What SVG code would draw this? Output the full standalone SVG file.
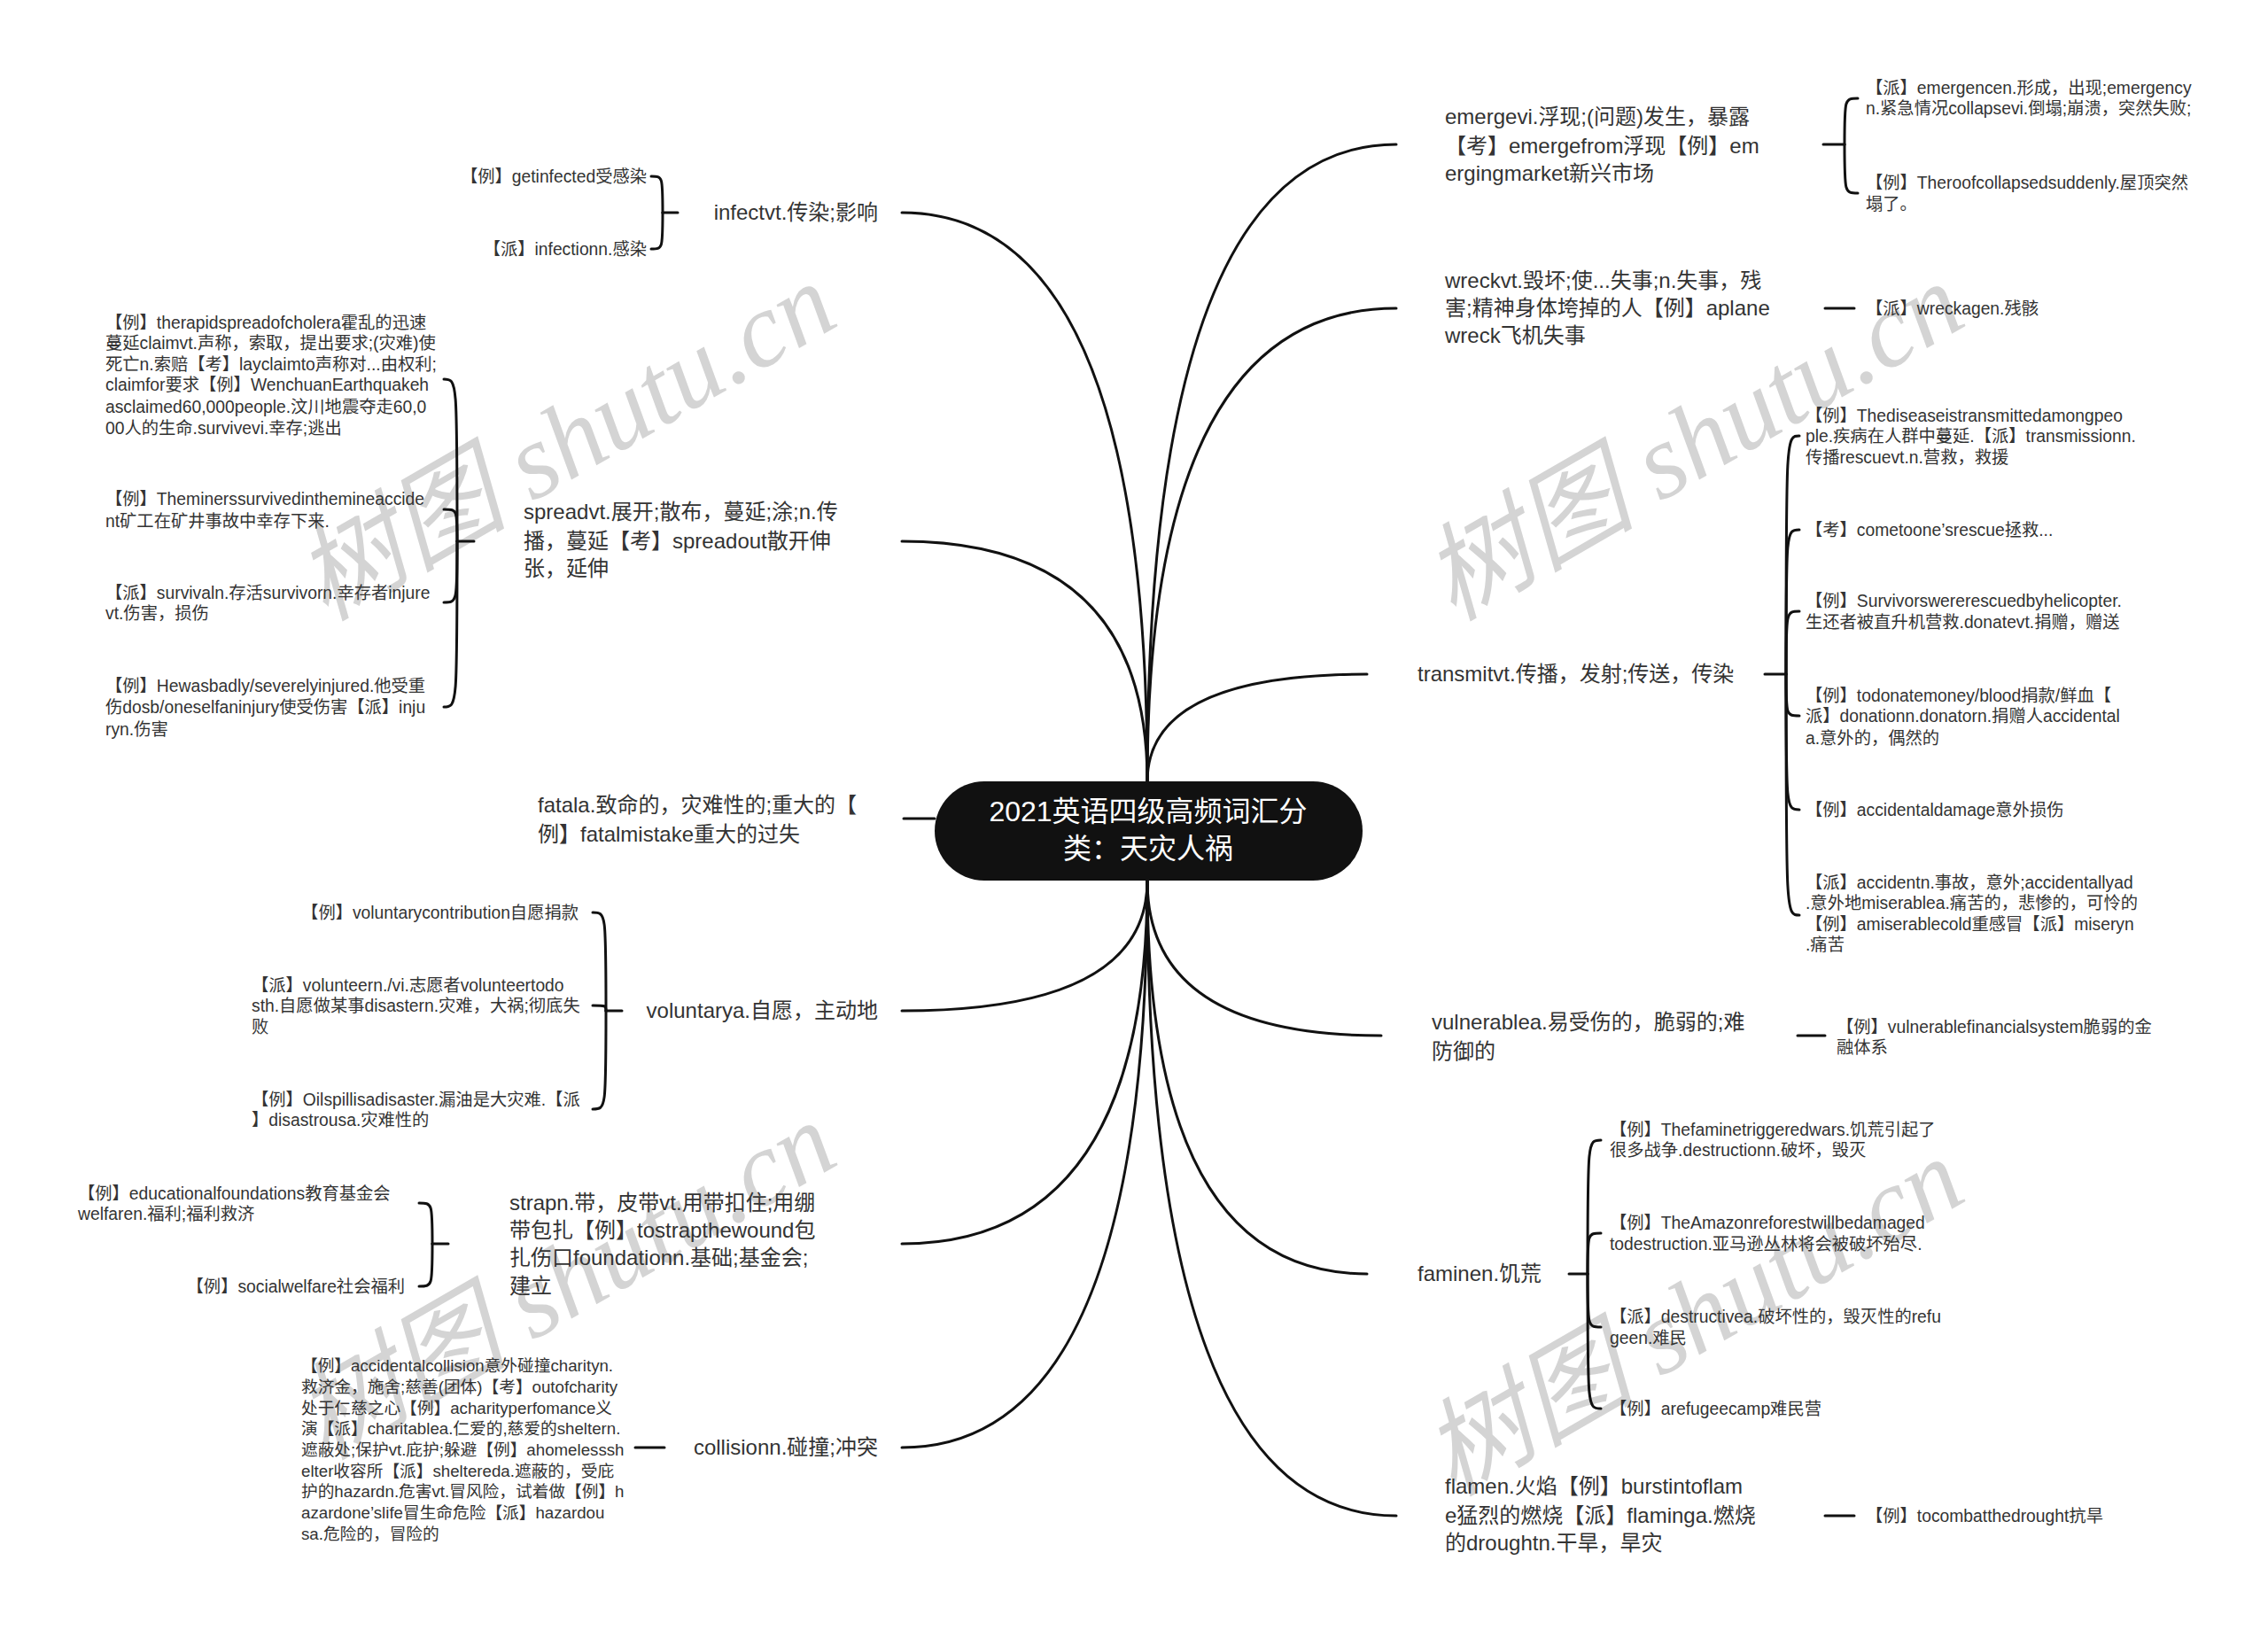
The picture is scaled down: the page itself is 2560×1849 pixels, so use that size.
<svg xmlns="http://www.w3.org/2000/svg" width="2560" height="1849" viewBox="0 0 2560 1849">
<style>
text{font-family:"Liberation Sans","Noto Sans CJK SC",sans-serif;fill:#333}
.n{font-size:24px}
.c{font-size:19.3px}
.cs{font-size:18.7px}
.r{font-size:32px;fill:#fff}
.e{text-anchor:end}
.wm{font-family:"Liberation Serif","Noto Sans CJK SC",serif;font-style:italic;font-size:120px;fill:#d4d4d4}
.ln{fill:none;stroke:#111;stroke-width:3;stroke-linecap:round}
</style>
<rect width="2560" height="1849" fill="#fff"/>
<g id="watermarks">
<text class="wm" transform="translate(367,702) rotate(-30)">树图 shutu.cn</text>
<text class="wm" transform="translate(1640,702) rotate(-30)">树图 shutu.cn</text>
<text class="wm" transform="translate(367,1649) rotate(-30)">树图 shutu.cn</text>
<text class="wm" transform="translate(1640,1690) rotate(-30)">树图 shutu.cn</text>
</g>
<g id="connectors">
<path class="ln" d="M1295 882 Q1295 163 1576 163"/>
<path class="ln" d="M1295 882 Q1295 348 1576 348"/>
<path class="ln" d="M1295 882 Q1295 761 1543 761"/>
<path class="ln" d="M1295 882 Q1295 240 1018 240"/>
<path class="ln" d="M1295 882 Q1295 611 1018 611"/>
<path class="ln" d="M1020 924 L1055 924"/>
<path class="ln" d="M1295 994 Q1295 1169 1559 1169"/>
<path class="ln" d="M1295 994 Q1295 1438 1543 1438"/>
<path class="ln" d="M1295 994 Q1295 1711 1576 1711"/>
<path class="ln" d="M1295 994 Q1295 1141 1018 1141"/>
<path class="ln" d="M1295 994 Q1295 1404 1018 1404"/>
<path class="ln" d="M1295 994 Q1295 1634 1018 1634"/>
<!-- emerge -->
<path class="ln" d="M2058 163 L2082 163"/>
<path class="ln" d="M2082 163 C2082 111 2082 111 2097 111"/>
<path class="ln" d="M2082 163 C2082 218 2082 218 2097 218"/>
<!-- wreck -->
<path class="ln" d="M2060 348 L2093 348"/>
<!-- transmit -->
<path class="ln" d="M1992 761 L2016 761"/>
<path class="ln" d="M2016 761 C2016 492 2016 492 2031 492"/>
<path class="ln" d="M2016 761 C2016 598 2016 598 2031 598"/>
<path class="ln" d="M2016 761 C2016 690 2016 690 2031 690"/>
<path class="ln" d="M2016 761 C2016 808 2016 808 2031 808"/>
<path class="ln" d="M2016 761 C2016 914 2016 914 2031 914"/>
<path class="ln" d="M2016 761 C2016 1033 2016 1033 2031 1033"/>
<!-- vulnerable -->
<path class="ln" d="M2029 1169 L2060 1169"/>
<!-- famine -->
<path class="ln" d="M1771 1438 L1792 1438"/>
<path class="ln" d="M1792 1438 C1792 1287 1792 1287 1807 1287"/>
<path class="ln" d="M1792 1438 C1792 1392 1792 1392 1807 1392"/>
<path class="ln" d="M1792 1438 C1792 1498 1792 1498 1807 1498"/>
<path class="ln" d="M1792 1438 C1792 1590 1792 1590 1807 1590"/>
<!-- flame -->
<path class="ln" d="M2060 1711 L2093 1711"/>
<!-- infect -->
<path class="ln" d="M765 240 L748 240"/>
<path class="ln" d="M748 240 C748 199 748 199 735 199"/>
<path class="ln" d="M748 240 C748 281 748 281 735 281"/>
<!-- spread -->
<path class="ln" d="M535 611 L516 611"/>
<path class="ln" d="M516 611 C516 428 516 428 501 428"/>
<path class="ln" d="M516 611 C516 575 516 575 501 575"/>
<path class="ln" d="M516 611 C516 680 516 680 501 680"/>
<path class="ln" d="M516 611 C516 798 516 798 501 798"/>
<!-- voluntary -->
<path class="ln" d="M702 1141 L684 1141"/>
<path class="ln" d="M684 1141 C684 1030 684 1030 669 1030"/>
<path class="ln" d="M684 1141 C684 1135 684 1135 669 1135"/>
<path class="ln" d="M684 1141 C684 1252 684 1252 669 1252"/>
<!-- strap -->
<path class="ln" d="M506 1404 L488 1404"/>
<path class="ln" d="M488 1404 C488 1358 488 1358 473 1358"/>
<path class="ln" d="M488 1404 C488 1452 488 1452 473 1452"/>
<!-- collision -->
<path class="ln" d="M750 1634 L717 1634"/>
</g>
<g id="root">
<rect x="1055" y="882" width="483" height="112" rx="56" fill="#111"/>
<text class="r" x="1296" y="927" text-anchor="middle">2021英语四级高频词汇分</text>
<text class="r" x="1296" y="969" text-anchor="middle">类：天灾人祸</text>
</g>
<g id="emerge">
<text class="n" x="1631" y="140">emergevi.浮现;(问题)发生，暴露</text>
<text class="n" x="1631" y="173">【考】emergefrom浮现【例】em</text>
<text class="n" x="1631" y="204">ergingmarket新兴市场</text>
</g>
<g id="emerge-c1"><text class="c" x="2106" y="106">【派】emergencen.形成，出现;emergency</text><text class="c" x="2106" y="129">n.紧急情况collapsevi.倒塌;崩溃，突然失败;</text></g>
<g id="emerge-c2"><text class="c" x="2106" y="213">【例】Theroofcollapsedsuddenly.屋顶突然</text><text class="c" x="2106" y="237">塌了。</text></g>
<g id="wreck">
<text class="n" x="1631" y="325">wreckvt.毁坏;使...失事;n.失事，残</text>
<text class="n" x="1631" y="356">害;精神身体垮掉的人【例】aplane</text>
<text class="n" x="1631" y="387">wreck飞机失事</text>
</g>
<g id="wreck-c1"><text class="c" x="2106" y="355">【派】wreckagen.残骸</text></g>
<g id="transmit"><text class="n" x="1600" y="769">transmitvt.传播，发射;传送，传染</text></g>
<g id="transmit-c1"><text class="c" x="2038" y="476">【例】Thediseaseistransmittedamongpeo</text><text class="c" x="2038" y="499">ple.疾病在人群中蔓延.【派】transmissionn.</text><text class="c" x="2038" y="523">传播rescuevt.n.营救，救援</text></g>
<g id="transmit-c2"><text class="c" x="2038" y="605">【考】cometoone’srescue拯救...</text></g>
<g id="transmit-c3"><text class="c" x="2038" y="685">【例】Survivorswererescuedbyhelicopter.</text><text class="c" x="2038" y="709">生还者被直升机营救.donatevt.捐赠，赠送</text></g>
<g id="transmit-c4"><text class="c" x="2038" y="792">【例】todonatemoney/blood捐款/鲜血【</text><text class="c" x="2038" y="815">派】donationn.donatorn.捐赠人accidental</text><text class="c" x="2038" y="840">a.意外的，偶然的</text></g>
<g id="transmit-c5"><text class="c" x="2038" y="921">【例】accidentaldamage意外损伤</text></g>
<g id="transmit-c6"><text class="c" x="2038" y="1003">【派】accidentn.事故，意外;accidentallyad</text><text class="c" x="2038" y="1026">.意外地miserablea.痛苦的，悲惨的，可怜的</text><text class="c" x="2038" y="1050">【例】amiserablecold重感冒【派】miseryn</text><text class="c" x="2038" y="1073">.痛苦</text></g>
<g id="vulnerable"><text class="n" x="1616" y="1162">vulnerablea.易受伤的，脆弱的;难</text><text class="n" x="1616" y="1195">防御的</text></g>
<g id="vulnerable-c1"><text class="c" x="2073" y="1166">【例】vulnerablefinancialsystem脆弱的金</text><text class="c" x="2073" y="1189">融体系</text></g>
<g id="famine"><text class="n" x="1600" y="1446">faminen.饥荒</text></g>
<g id="famine-c1"><text class="c" x="1817" y="1282">【例】Thefaminetriggeredwars.饥荒引起了</text><text class="c" x="1817" y="1305">很多战争.destructionn.破坏，毁灭</text></g>
<g id="famine-c2"><text class="c" x="1817" y="1387">【例】TheAmazonreforestwillbedamaged</text><text class="c" x="1817" y="1411">todestruction.亚马逊丛林将会被破坏殆尽.</text></g>
<g id="famine-c3"><text class="c" x="1817" y="1493">【派】destructivea.破坏性的，毁灭性的refu</text><text class="c" x="1817" y="1517">geen.难民</text></g>
<g id="famine-c4"><text class="c" x="1817" y="1597">【例】arefugeecamp难民营</text></g>
<g id="flame"><text class="n" x="1631" y="1686">flamen.火焰【例】burstintoflam</text><text class="n" x="1631" y="1719">e猛烈的燃烧【派】flaminga.燃烧</text><text class="n" x="1631" y="1750">的droughtn.干旱，旱灾</text></g>
<g id="flame-c1"><text class="c" x="2106" y="1718">【例】tocombatthedrought抗旱</text></g>
<g id="infect"><text class="n e" x="991" y="248">infectvt.传染;影响</text></g>
<g id="infect-c1"><text class="c e" x="730" y="206">【例】getinfected受感染</text></g>
<g id="infect-c2"><text class="c e" x="730" y="288">【派】infectionn.感染</text></g>
<g id="spread"><text class="n" x="591" y="586">spreadvt.展开;散布，蔓延;涂;n.传</text><text class="n" x="591" y="619">播，蔓延【考】spreadout散开伸</text><text class="n" x="591" y="650">张，延伸</text></g>
<g id="spread-c1"><text class="c" x="119" y="371">【例】therapidspreadofcholera霍乱的迅速</text><text class="c" x="119" y="394">蔓延claimvt.声称，索取，提出要求;(灾难)使</text><text class="c" x="119" y="418">死亡n.索赔【考】layclaimto声称对...由权利;</text><text class="c" x="119" y="441">claimfor要求【例】WenchuanEarthquakeh</text><text class="c" x="119" y="466">asclaimed60,000people.汶川地震夺走60,0</text><text class="c" x="119" y="490">00人的生命.survivevi.幸存;逃出</text></g>
<g id="spread-c2"><text class="c" x="119" y="570">【例】Theminerssurvivedinthemineaccide</text><text class="c" x="119" y="595">nt矿工在矿井事故中幸存下来.</text></g>
<g id="spread-c3"><text class="c" x="119" y="676">【派】survivaln.存活survivorn.幸存者injure</text><text class="c" x="119" y="699">vt.伤害，损伤</text></g>
<g id="spread-c4"><text class="c" x="119" y="781">【例】Hewasbadly/severelyinjured.他受重</text><text class="c" x="119" y="805">伤dosb/oneselfaninjury使受伤害【派】inju</text><text class="c" x="119" y="830">ryn.伤害</text></g>
<g id="fatal"><text class="n" x="607" y="917">fatala.致命的，灾难性的;重大的【</text><text class="n" x="607" y="950">例】fatalmistake重大的过失</text></g>
<g id="voluntary"><text class="n e" x="991" y="1149">voluntarya.自愿，主动地</text></g>
<g id="voluntary-c1"><text class="c e" x="653" y="1037">【例】voluntarycontribution自愿捐款</text></g>
<g id="voluntary-c2"><text class="c" x="284" y="1119">【派】volunteern./vi.志愿者volunteertodo</text><text class="c" x="284" y="1142">sth.自愿做某事disastern.灾难，大祸;彻底失</text><text class="c" x="284" y="1166">败</text></g>
<g id="voluntary-c3"><text class="c" x="284" y="1248">【例】Oilspillisadisaster.漏油是大灾难.【派</text><text class="c" x="284" y="1271">】disastrousa.灾难性的</text></g>
<g id="strap"><text class="n" x="575" y="1366">strapn.带，皮带vt.用带扣住;用绷</text><text class="n" x="575" y="1397">带包扎【例】tostrapthewound包</text><text class="n" x="575" y="1428">扎伤口foundationn.基础;基金会;</text><text class="n" x="575" y="1460">建立</text></g>
<g id="strap-c1"><text class="c" x="88" y="1354">【例】educationalfoundations教育基金会</text><text class="c" x="88" y="1377">welfaren.福利;福利救济</text></g>
<g id="strap-c2"><text class="c e" x="457" y="1459">【例】socialwelfare社会福利</text></g>
<g id="collision"><text class="n e" x="991" y="1642">collisionn.碰撞;冲突</text></g>
<g id="collision-c1"><text class="cs" x="340" y="1548">【例】accidentalcollision意外碰撞charityn.</text><text class="cs" x="340" y="1572">救济金，施舍;慈善(团体)【考】outofcharity</text><text class="cs" x="340" y="1596">处于仁慈之心【例】acharityperfomance义</text><text class="cs" x="340" y="1619">演【派】charitablea.仁爱的,慈爱的sheltern.</text><text class="cs" x="340" y="1643">遮蔽处;保护vt.庇护;躲避【例】ahomelesssh</text><text class="cs" x="340" y="1667">elter收容所【派】sheltereda.遮蔽的，受庇</text><text class="cs" x="340" y="1690">护的hazardn.危害vt.冒风险，试着做【例】h</text><text class="cs" x="340" y="1714">azardone’slife冒生命危险【派】hazardou</text><text class="cs" x="340" y="1738">sa.危险的，冒险的</text></g>
</svg>
